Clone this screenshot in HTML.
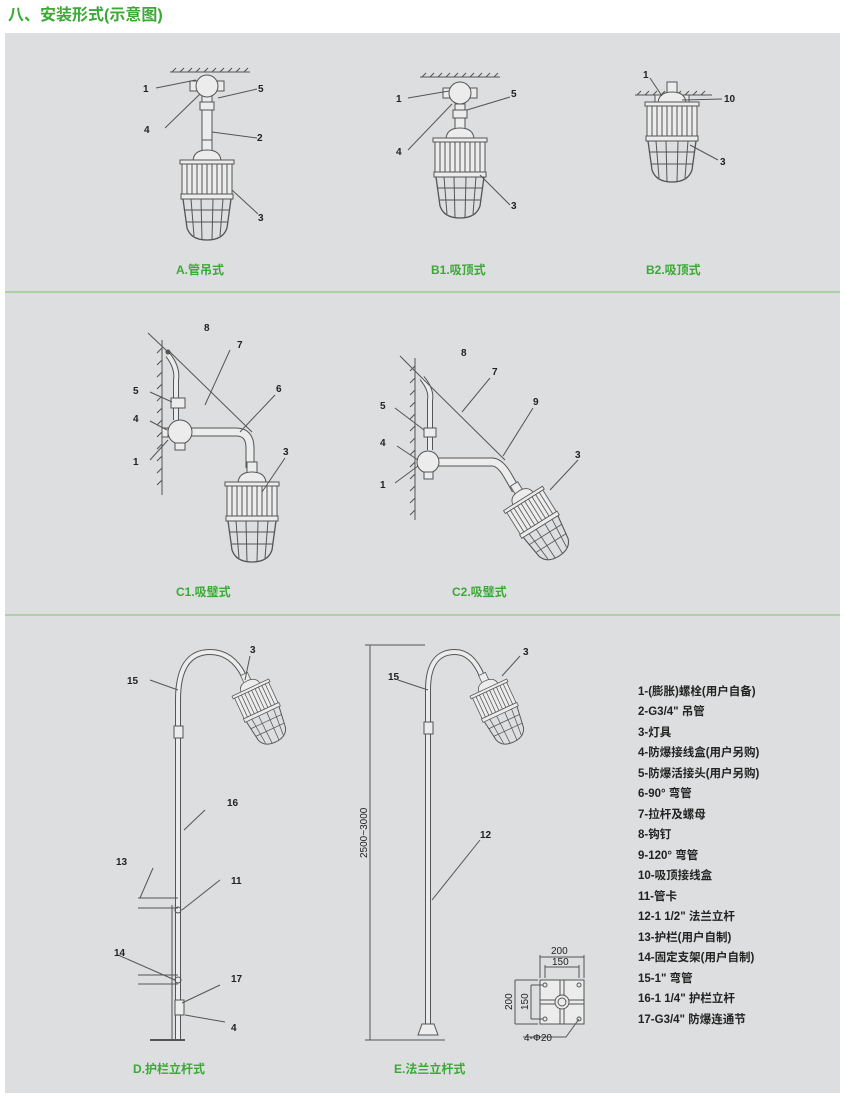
<!DOCTYPE html>
<html><head><meta charset="utf-8"><style>
body{margin:0;background:#fff;width:846px;height:1100px;overflow:hidden}
svg{display:block}
text{font-family:"Liberation Sans","Noto Sans CJK SC",sans-serif}
.t{font-size:10px;font-weight:bold;fill:#222}
.g{font-size:12px;font-weight:bold;fill:#3aa935}
.lg{font-size:11.5px;font-weight:bold;fill:#222}
</style></head><body>
<svg width="846" height="1100" viewBox="0 0 846 1100">
<defs>
<g id="lamp" stroke="#555" stroke-width="1" fill="#ececec">
<rect x="-5" y="0" width="10" height="11"/>
<path d="M-14,22 Q-14,10 0,10 Q14,10 14,22 Z"/>
<rect x="-27" y="20" width="54" height="4"/>
<rect x="-25" y="24" width="50" height="30"/>
<path d="M-20,24V54M-15,24V54M-10,24V54M-5,24V54M0,24V54M5,24V54M10,24V54M15,24V54M20,24V54" fill="none"/>
<rect x="-26" y="54" width="52" height="5"/>
<path d="M-24,59 L-20,88 Q-16,100 0,100 Q16,100 20,88 L24,59" fill="none" stroke-width="1.3"/>
<path d="M-16,59 L-13,96 M-6,59 L-5,100 M6,59 L5,100 M16,59 L13,96 M-23,70 H23 M-21,82 H21" fill="none"/>
</g>
<g id="box" stroke="#555" fill="#ececec">
<rect x="-17" y="-5" width="7" height="10"/><rect x="10" y="-5" width="7" height="10"/>
<circle r="11"/>
</g>
</defs>
<rect width="846" height="1100" fill="#fff"/>
<text x="8" y="20" style="font-size:16px;font-weight:bold;fill:#3aa935">八、安装形式(示意图)</text>
<rect x="5" y="33" width="835" height="1060" fill="#dcdedf"/>
<line x1="5" y1="292" x2="840" y2="292" stroke="#7cc46a" stroke-width="1"/>
<line x1="5" y1="615" x2="840" y2="615" stroke="#7cc46a" stroke-width="1"/>

<g stroke="#555" fill="none" stroke-width="1">
<!-- A -->
<path d="M170,72H250"/><path d="M172,72l4,-4M180,72l4,-4M188,72l4,-4M196,72l4,-4M204,72l4,-4M212,72l4,-4M220,72l4,-4M228,72l4,-4M236,72l4,-4M244,72l4,-4"/>
<rect x="202" y="96" width="10" height="48" fill="#ececec"/>
<rect x="200" y="102" width="14" height="8" fill="#ececec"/>
<use href="#box" x="207" y="86"/>
<use href="#lamp" x="207" y="140"/>
<path d="M156,88L196,80M165,128L200,94M218,98L257,89M212,132L257,138M232,190L258,214"/>
<!-- B1 -->
<path d="M420,77H500"/><path d="M422,77l4,-4M430,77l4,-4M438,77l4,-4M446,77l4,-4M454,77l4,-4M462,77l4,-4M470,77l4,-4M478,77l4,-4M486,77l4,-4M494,77l4,-4"/>
<rect x="455" y="104" width="10" height="20" fill="#ececec"/>
<rect x="453" y="110" width="14" height="8" fill="#ececec"/>
<use href="#box" x="460" y="93"/>
<use href="#lamp" x="460" y="118"/>
<path d="M408,98L449,91M408,150L452,104M467,110L510,97M480,175L510,205"/>
<!-- B2 -->
<path d="M635,95H712"/><path d="M637,95l4,-4M645,95l4,-4M653,95l4,-4M661,95l4,-4M669,95l4,-4M677,95l4,-4M685,95l4,-4M693,95l4,-4M701,95l4,-4"/>
<rect x="655" y="95" width="34" height="8" fill="#ececec"/>
<use href="#lamp" x="672" y="82"/>
<path d="M650,78L662,96M682,100L722,99M690,145L718,160"/>
<!-- C1 -->
<path d="M162,340V495"/><path d="M162,348l-5,5M162,360l-5,5M162,372l-5,5M162,384l-5,5M162,396l-5,5M162,408l-5,5M162,420l-5,5M162,432l-5,5M162,444l-5,5M162,456l-5,5M162,468l-5,5M162,480l-5,5"/>
<path d="M168,355 Q178,368 176,380V420" stroke-width="6" stroke="#555"/><path d="M168,355 Q178,368 176,380V420" stroke-width="4" stroke="#ececec"/>
<path d="M180,432H236Q250,432 250,448V468" stroke-width="9"/><path d="M180,432H236Q250,432 250,448V468" stroke-width="7" stroke="#ececec"/>
<rect x="171" y="398" width="14" height="10" fill="#ececec"/>
<circle cx="180" cy="432" r="12" fill="#ececec"/><rect x="175" y="443" width="10" height="7" fill="#ececec"/><rect x="162" y="428" width="6" height="9" fill="#ececec"/>
<path d="M170,352L252,432"/><circle cx="168" cy="352" r="2" fill="#555"/>
<use href="#lamp" x="252" y="462"/>
<path d="M148,333L168,352M150,392L172,402M150,421L167,430M150,460L168,440M230,350L205,405M275,395L240,432M285,458L262,492"/>
<!-- C2 -->
<path d="M415,358V520"/><path d="M415,366l-5,5M415,378l-5,5M415,390l-5,5M415,402l-5,5M415,414l-5,5M415,426l-5,5M415,438l-5,5M415,450l-5,5M415,462l-5,5M415,474l-5,5M415,486l-5,5M415,498l-5,5M415,510l-5,5"/>
<path d="M422,378 Q432,390 430,400V450" stroke-width="6"/><path d="M422,378 Q432,390 430,400V450" stroke-width="4" stroke="#ececec"/>
<path d="M430,462H492Q500,462 508,476L516,490" stroke-width="9"/><path d="M430,462H492Q500,462 508,476L516,490" stroke-width="7" stroke="#ececec"/>
<rect x="424" y="428" width="12" height="9" fill="#ececec"/>
<circle cx="428" cy="462" r="11" fill="#ececec"/><rect x="424" y="472" width="9" height="7" fill="#ececec"/>
<path d="M422,378L505,460"/>
<use href="#lamp" transform="translate(514,484) rotate(-32) scale(0.85)"/>
<path d="M400,356L422,378M395,408L424,430M397,446L418,460M395,483L418,466M490,378L462,412M533,408L503,456M578,460L550,490"/>
<!-- D -->
<path d="M178,1040V700Q178,652 210,652Q232,652 244,676" stroke-width="6"/>
<path d="M178,1040V700Q178,652 210,652Q232,652 244,676" stroke-width="4" stroke="#ececec"/>
<rect x="174" y="726" width="9" height="12" fill="#ececec"/>
<use href="#lamp" transform="translate(244,674) rotate(-25) scale(0.75)"/>
<path d="M138,898H178M138,908H178M138,975H178M138,984H178M172,905V1040"/>
<rect x="175" y="1000" width="9" height="15" fill="#ececec"/>
<circle cx="178" cy="910" r="3"/><circle cx="178" cy="980" r="3"/>
<path d="M150,680L178,690M205,810L184,830M153,868L140,898M220,880L182,910M118,955L175,980M220,985L182,1003M225,1022L185,1015M250,656L245,680"/>
<path d="M150,1040H185" stroke-width="2"/>
<!-- E -->
<path d="M428,1028V690Q428,652 455,652Q472,652 482,676" stroke-width="6"/>
<path d="M428,1028V690Q428,652 455,652Q472,652 482,676" stroke-width="4" stroke="#ececec"/>
<rect x="424" y="722" width="9" height="12" fill="#ececec"/>
<use href="#lamp" transform="translate(482,674) rotate(-25) scale(0.75)"/>
<path d="M418,1035L422,1024H434L438,1035Z" fill="#ececec"/>
<path d="M370,645V1040M365,645H425M365,1040H445M398,680L428,690M480,840L432,900M520,656L502,676"/>
<!-- flange -->
<rect x="540" y="980" width="44" height="44" fill="#ececec"/>
<path d="M540,1000H584M540,1004H584M560,980V1024M564,980V1024"/>
<circle cx="562" cy="1002" r="7" fill="#ececec"/><circle cx="562" cy="1002" r="4"/>
<circle cx="545" cy="985" r="2"/><circle cx="579" cy="985" r="2"/><circle cx="545" cy="1019" r="2"/><circle cx="579" cy="1019" r="2"/>
<path d="M540,955V978M584,955V978M540,957H584M545,965V978M579,965V978M545,967H579"/>
<path d="M515,980H538M515,980V1024M515,1024H538M531,985V1019M531,985H543M531,1019H543"/>
<path d="M523,1037H566L579,1019"/>
</g>
<g class="t">
<text x="143" y="92">1</text><text x="258" y="92">5</text><text x="144" y="133">4</text><text x="257" y="141">2</text><text x="258" y="221">3</text>
<text x="396" y="102">1</text><text x="511" y="97">5</text><text x="396" y="155">4</text><text x="511" y="209">3</text>
<text x="643" y="78">1</text><text x="724" y="102">10</text><text x="720" y="165">3</text>
<text x="204" y="331">8</text><text x="237" y="348">7</text><text x="276" y="392">6</text><text x="283" y="455">3</text>
<text x="133" y="394">5</text><text x="133" y="422">4</text><text x="133" y="465">1</text>
<text x="461" y="356">8</text><text x="492" y="375">7</text><text x="533" y="405">9</text><text x="575" y="458">3</text>
<text x="380" y="409">5</text><text x="380" y="446">4</text><text x="380" y="488">1</text>
<text x="127" y="684">15</text><text x="250" y="653">3</text><text x="227" y="806">16</text><text x="116" y="865">13</text><text x="231" y="884">11</text><text x="114" y="956">14</text><text x="231" y="982">17</text><text x="231" y="1031">4</text>
<text x="388" y="680">15</text><text x="523" y="655">3</text><text x="480" y="838">12</text>
<text x="551" y="954" style="font-weight:normal">200</text><text x="552" y="965" style="font-weight:normal">150</text>
<text x="524" y="1041" style="font-weight:normal">4-Φ20</text>
<text transform="translate(512,1010) rotate(-90)" style="font-weight:normal">200</text>
<text transform="translate(528,1010) rotate(-90)" style="font-weight:normal">150</text>
<text transform="translate(367,858) rotate(-90)" style="font-weight:normal">2500~3000</text>
</g>
<g class="g">
<text x="176" y="274">A.管吊式</text><text x="431" y="274">B1.吸顶式</text><text x="646" y="274">B2.吸顶式</text>
<text x="176" y="596">C1.吸璧式</text><text x="452" y="596">C2.吸璧式</text>
<text x="133" y="1073">D.护栏立杆式</text><text x="394" y="1073">E.法兰立杆式</text>
</g>
<g class="lg">
<text x="638" y="695">1-(膨胀)螺栓(用户自备)</text>
<text x="638" y="715">2-G3/4" 吊管</text>
<text x="638" y="736">3-灯具</text>
<text x="638" y="756">4-防爆接线盒(用户另购)</text>
<text x="638" y="777">5-防爆活接头(用户另购)</text>
<text x="638" y="797">6-90° 弯管</text>
<text x="638" y="818">7-拉杆及螺母</text>
<text x="638" y="838">8-钩钉</text>
<text x="638" y="859">9-120° 弯管</text>
<text x="638" y="879">10-吸顶接线盒</text>
<text x="638" y="900">11-管卡</text>
<text x="638" y="920">12-1 1/2" 法兰立杆</text>
<text x="638" y="941">13-护栏(用户自制)</text>
<text x="638" y="961">14-固定支架(用户自制)</text>
<text x="638" y="982">15-1" 弯管</text>
<text x="638" y="1002">16-1 1/4" 护栏立杆</text>
<text x="638" y="1023">17-G3/4" 防爆连通节</text>
</g>
</svg>
</body></html>
